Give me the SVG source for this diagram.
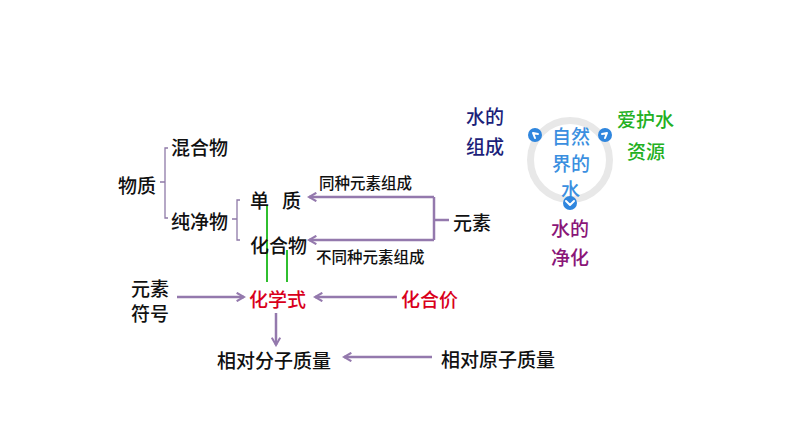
<svg xmlns="http://www.w3.org/2000/svg" width="794" height="447" viewBox="0 0 794 447">
<defs>
<style>
text{font-family:"Noto Sans CJK SC","Noto Sans",sans-serif;dominant-baseline:central;font-weight:500;}
.t{font-size:19px;fill:#111;}
.s{font-size:15.5px;fill:#111;}
.red{font-size:19px;fill:#d9001b;}
.navy{font-size:19px;fill:#1c1f7a;}
.grn{font-size:19px;fill:#22b022;}
.pur{font-size:19px;fill:#8a1678;}
.blu{font-size:19px;fill:#3b8fe0;}
.ln{fill:none;stroke:#9479ad;stroke-width:2.5;}
.br{fill:none;stroke:#8f7aa8;stroke-width:1.3;}
.g{stroke:#2fbf2f;stroke-width:2;}
.dot{fill:#2f86de;}
.chev{fill:none;stroke:#fff;stroke-width:2;stroke-linecap:round;stroke-linejoin:round;}
</style>
<marker id="ah" viewBox="0 0 10 10" refX="8" refY="5" markerWidth="4.2" markerHeight="4.2" orient="auto" markerUnits="strokeWidth">
<path d="M1,1 L8,5 L1,9" fill="none" stroke="#9479ad" stroke-width="2"/>
</marker>
</defs>
<rect width="794" height="447" fill="#fff"/>

<g id="connectors">
<path class="br" d="M160,182 H165 M168,148 H165 V218 H168"/>
<path class="br" d="M232,219 H237 M240,200 H237 V240 H240"/>
<path class="ln" d="M434,197 V240"/>
<path class="ln" d="M434,220 H449"/>
<path class="ln" d="M434,197 H309" marker-end="url(#ah)"/>
<path class="ln" d="M434,240 H309" marker-end="url(#ah)"/>
<line class="g" x1="267" y1="205" x2="267" y2="282"/>
<line class="g" x1="287" y1="250" x2="287" y2="282"/>
<path class="ln" d="M177,297 H244" marker-end="url(#ah)"/>
<path class="ln" d="M397,297 H315" marker-end="url(#ah)"/>
<path class="ln" d="M276,313 V345" marker-end="url(#ah)"/>
<path class="ln" d="M432,357 H344" marker-end="url(#ah)"/>
</g>

<g id="n-wuzhi"><text class="t" x="118" y="184">物质</text></g>
<g id="n-hunhewu"><text class="t" x="171" y="146">混合物</text></g>
<g id="n-chunjingwu"><text class="t" x="171" y="220">纯净物</text></g>
<g id="n-danzhi"><text class="t" x="250" y="199">单</text><text class="t" x="282" y="199">质</text></g>
<g id="n-huahewu"><text class="t" x="250" y="244">化合物</text></g>
<g id="n-yuansu"><text class="t" x="453" y="221">元素</text></g>
<g id="l-same"><text class="s" x="319" y="182">同种元素组成</text></g>
<g id="l-diff"><text class="s" x="316" y="256">不同种元素组成</text></g>
<g id="n-fuhao"><text class="t" x="131" y="287">元素</text><text class="t" x="131" y="312">符号</text></g>
<g id="n-huaxueshi"><text class="red" x="249" y="298">化学式</text></g>
<g id="n-huahejia"><text class="red" x="401" y="298">化合价</text></g>
<g id="n-fenzi"><text class="t" x="217" y="359">相对分子质量</text></g>
<g id="n-yuanzi"><text class="t" x="441" y="358">相对原子质量</text></g>

<g id="water">
<circle cx="570" cy="160" r="39.5" fill="none" stroke="#e8e8e8" stroke-width="7"/>
<text class="blu" x="552" y="135">自然</text>
<text class="blu" x="552" y="162">界的</text>
<text class="blu" x="561" y="188">水</text>
<circle class="dot" cx="535" cy="135" r="7"/>
<path class="chev" d="M538,134 L533,133 L535,138"/>
<circle class="dot" cx="605" cy="135" r="7"/>
<path class="chev" d="M602,134 L607,133 L605,138"/>
<circle class="dot" cx="570" cy="203" r="7"/>
<path class="chev" d="M566,201 L570,205 L574,201"/>
</g>
<g id="n-zucheng"><text class="navy" x="466" y="115">水的</text><text class="navy" x="466" y="145">组成</text></g>
<g id="n-aihu"><text class="grn" x="617" y="118">爱护水</text><text class="grn" x="627" y="150">资源</text></g>
<g id="n-jinghua"><text class="pur" x="551" y="227">水的</text><text class="pur" x="551" y="256">净化</text></g>
</svg>
